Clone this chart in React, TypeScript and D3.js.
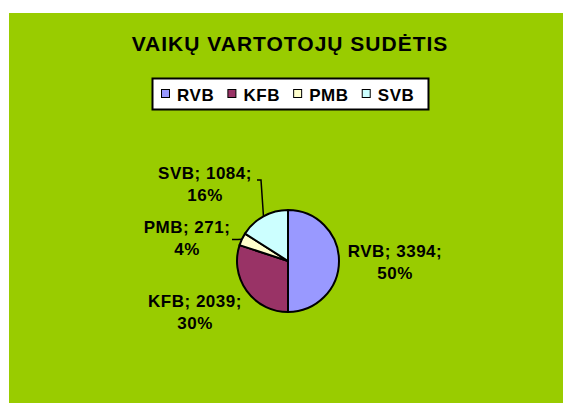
import React, { useEffect, useRef } from 'react';
import * as d3 from 'd3';

const categories = ['RVB', 'KFB', 'PMB', 'SVB'];
const values = [3394, 2039, 271, 1084];
const percents = ['50%', '30%', '4%', '16%'];
const colors = ['#9999FF', '#993366', '#FFFFCC', '#CCFFFF'];
const title = 'VAIKŲ VARTOTOJŲ SUDĖTIS';

// label block centres relative to the pie centre, plus optional leader elbows
const labelLayout = [
  { dx: 107, dy: 1, leader: null },
  { dx: -93, dy: 51, leader: null },
  { dx: -101, dy: -23, leader: { ex: -50, ey: -21.5, hx: -56 } },
  { dx: -83, dy: -77, leader: { ex: -27, ey: -81, hx: -31 } },
];

const W = 563;
const H = 403;
const FONT = 'Arial, "Liberation Sans", sans-serif';

const App: React.FC = () => {
  const svgRef = useRef<SVGSVGElement>(null);

  useEffect(() => {
    if (!svgRef.current) return;
    const svg = d3.select(svgRef.current);
    svg.selectAll('*').remove();

    // chart area background
    svg.append('rect')
      .attr('x', 9).attr('y', 13)
      .attr('width', W - 9).attr('height', H - 13)
      .style('fill', '#99CC00');

    // title
    svg.append('text')
      .attr('x', 290).attr('y', 51)
      .style('text-anchor', 'middle')
      .style('font-family', FONT)
      .style('font-weight', 'bold')
      .style('font-size', '21px')
      .style('letter-spacing', '1px')
      .text(title);

    // legend
    const legend = svg.append('g');
    const legendBox = legend.append('rect')
      .attr('x', 152.5).attr('y', 78.5)
      .attr('height', 31)
      .style('fill', '#fff')
      .style('stroke', '#000')
      .style('stroke-width', 2);

    let lx = 161;
    categories.forEach((c, i) => {
      legend.append('rect')
        .attr('x', lx + 0.5).attr('y', 89.5)
        .attr('width', 8).attr('height', 8)
        .style('fill', colors[i])
        .style('stroke', '#000')
        .style('stroke-width', 1);
      const t = legend.append('text')
        .attr('x', lx + 16).attr('y', 100.5)
        .style('font-family', FONT)
        .style('font-weight', 'bold')
        .style('font-size', '17px')
        .style('letter-spacing', '0.6px')
        .text(c);
      const w = (t.node() as SVGTextElement).getComputedTextLength();
      lx = lx + 16 + w + 13;
    });
    legendBox.attr('width', lx - 13 + 14 - 152.5);

    // pie
    const cx = 288;
    const cy = 261;
    const r = 51;
    const pie = d3.pie<number>().sort(null).value(d => d);
    const arcs = pie(values);
    const arc = d3.arc<d3.PieArcDatum<number>>().innerRadius(0).outerRadius(r);

    const g = svg.append('g').attr('transform', `translate(${cx},${cy})`);

    g.selectAll('path.slice')
      .data(arcs)
      .enter().append('path')
      .attr('class', 'slice')
      .attr('d', arc)
      .style('fill', (d, i) => colors[i])
      .style('stroke', '#000')
      .style('stroke-width', 2)
      .style('stroke-linejoin', 'round');

    // leader lines
    arcs.forEach((d, i) => {
      const lay = labelLayout[i];
      if (!lay.leader) return;
      const mid = (d.startAngle + d.endAngle) / 2;
      const px = r * Math.sin(mid);
      const py = -r * Math.cos(mid);
      const path = d3.path();
      path.moveTo(px, py);
      path.lineTo(lay.leader.ex, lay.leader.ey);
      path.lineTo(lay.leader.hx, lay.leader.ey);
      g.append('path')
        .attr('d', path.toString())
        .style('fill', 'none')
        .style('stroke', '#000')
        .style('stroke-width', 1.5);
    });

    // data labels
    arcs.forEach((d, i) => {
      const lay = labelLayout[i];
      const t = g.append('text')
        .attr('x', lay.dx)
        .attr('y', lay.dy - 5)
        .style('text-anchor', 'middle')
        .style('font-family', FONT)
        .style('font-weight', 'bold')
        .style('font-size', '17px')
        .style('letter-spacing', '0.5px');
      t.append('tspan')
        .attr('x', lay.dx)
        .text(`${categories[i]}; ${d.data};`);
      t.append('tspan')
        .attr('x', lay.dx)
        .attr('dy', 22)
        .text(percents[i]);
    });
  }, []);

  return (
    <svg
      ref={svgRef}
      width={W}
      height={H}
      style={{ position: 'absolute', left: 0, top: 0, background: '#fff' }}
    />
  );
};

export default App;
